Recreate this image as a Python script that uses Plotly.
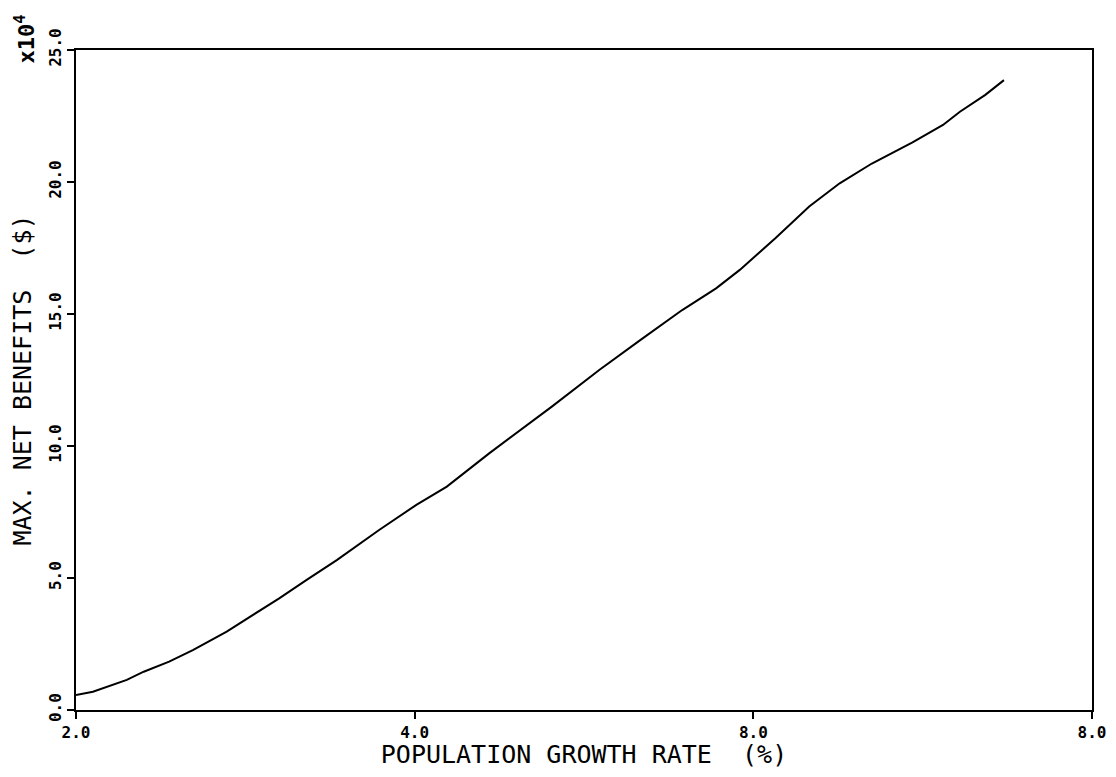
import plotly.graph_objects as go

growth_rate = [2.00, 2.10, 2.30, 2.40, 2.55, 2.69, 2.89, 3.09, 3.20, 3.36, 3.54, 3.79,
               4.01, 4.19, 4.44, 4.81, 5.09, 5.33, 5.58, 5.78, 5.92, 6.13, 6.33, 6.51,
               6.70, 6.94, 7.12, 7.22, 7.37, 7.48]
net_benefits = [0.57, 0.69, 1.14, 1.45, 1.83, 2.27, 2.97, 3.79, 4.23, 4.92, 5.68, 6.82,
                7.77, 8.46, 9.72, 11.49, 12.88, 14.00, 15.15, 15.97, 16.67, 17.87, 19.07, 19.95,
                20.70, 21.50, 22.16, 22.66, 23.30, 23.86]

x_tickvals = [2, 4, 6, 8]
x_ticktext = ["2.0", "4.0", "8.0", "8.0"]
y_tickvals = [0, 5, 10, 15, 20, 25]
y_ticktext = ["0.0", "5.0", "10.0", "15.0", "20.0", "25.0"]

FONT = "DejaVu Sans Mono"

fig = go.Figure()
fig.add_trace(go.Scatter(x=growth_rate, y=net_benefits, mode="lines",
                         line=dict(color="black", width=2), showlegend=False))

fig.update_layout(
    width=1100, height=761,
    margin=dict(l=68, r=16, t=42, b=59, autoexpand=False),
    paper_bgcolor="white", plot_bgcolor="white",
    font=dict(family=FONT, color="black", size=15),
    xaxis=dict(range=[2, 8], tickvals=x_tickvals, ticktext=x_ticktext, automargin=False,
               showgrid=False, zeroline=False, showline=True, linecolor="black",
               linewidth=2, mirror=True, ticks="outside", ticklen=7, tickcolor="black",
               tickwidth=1.5, tickfont=dict(family=FONT, size=16, weight="bold"),
               title=dict(text="POPULATION GROWTH RATE  (%)", standoff=8,
                          font=dict(family=FONT, size=25))),
    yaxis=dict(range=[0, 25], tickvals=y_tickvals, ticktext=y_ticktext, automargin=False,
               showgrid=False, zeroline=False, showline=True, linecolor="black",
               linewidth=2, mirror=True, ticks="outside", ticklen=7, tickcolor="black",
               tickwidth=1.5, tickangle=-90, tickfont=dict(family=FONT, size=16, weight="bold"),
               title=dict(text="MAX. NET BENEFITS  ($)", standoff=8,
                          font=dict(family=FONT, size=25))),
)

fig.add_annotation(text="x10<sup>4</sup>", xref="paper", yref="paper",
                   x=-0.05, y=0.976, xanchor="center", yanchor="bottom",
                   textangle=-90, showarrow=False,
                   font=dict(family=FONT, size=22, color="black", weight="bold"))

fig.write_html("out.html")
